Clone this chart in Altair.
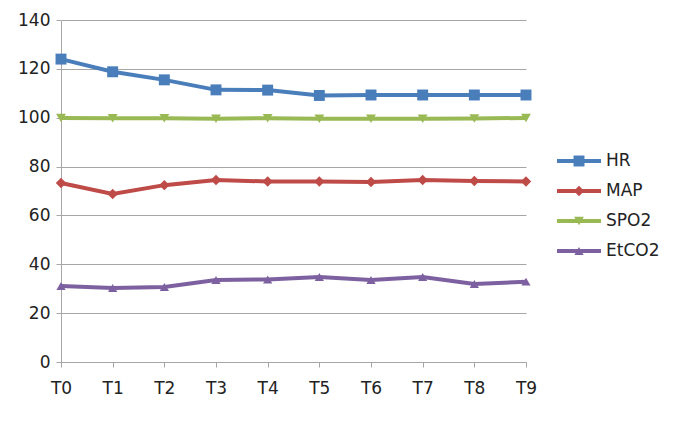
import altair as alt
import pandas as pd

times = ["T0", "T1", "T2", "T3", "T4", "T5", "T6", "T7", "T8", "T9"]
series_names = ["HR", "MAP", "SPO2", "EtCO2"]
hr = [124.0, 118.8, 115.5, 111.4, 111.3, 109.1, 109.3, 109.3, 109.3, 109.3]
map_ = [73.3, 68.8, 72.4, 74.5, 73.9, 73.9, 73.7, 74.5, 74.1, 73.9]
spo2 = [99.9, 99.8, 99.8, 99.6, 99.8, 99.6, 99.6, 99.6, 99.7, 99.9]
etco2 = [31.1, 30.3, 30.7, 33.6, 33.8, 34.8, 33.6, 34.8, 31.9, 32.9]
colors = ["#4a7ebb", "#be4b48", "#98b954", "#7d60a0"]
shapes = ["square", "diamond", "triangle-down", "triangle-up"]
sizes = [120, 85, 125, 125]

rows = []
for name, vals in zip(series_names, [hr, map_, spo2, etco2]):
    for t, v in zip(times, vals):
        rows.append({"series": name, "time": t, "value": v})
df = pd.DataFrame(rows)
leg = pd.DataFrame({"series": series_names})

FONT = "DejaVu Sans"
color = alt.Color("series:N", scale=alt.Scale(domain=series_names, range=colors), legend=None)
shape = alt.Shape("series:N", scale=alt.Scale(domain=series_names, range=shapes), legend=None)
size = alt.Size("series:N", scale=alt.Scale(domain=series_names, range=sizes), legend=None)

x = alt.X("time:O", sort=times, scale=alt.Scale(type="point", padding=0),
          axis=alt.Axis(title=None, labelAngle=0, grid=False, domainColor="#a6a6a6",
                        tickColor="#a6a6a6", tickSize=5, labelPadding=13,
                        labelFontSize=17, labelFont=FONT, labelColor="#222"))
y = alt.Y("value:Q", scale=alt.Scale(domain=[0, 140], nice=False),
          axis=alt.Axis(title=None, values=list(range(0, 141, 20)), grid=True,
                        gridColor="#a6a6a6", domainColor="#a6a6a6", tickColor="#a6a6a6",
                        tickSize=5, labelPadding=6, labelFontSize=17, labelFont=FONT,
                        labelColor="#222"))

lines = alt.Chart(df).mark_line(strokeWidth=4).encode(x=x, y=y, color=color, detail="series:N")
points = alt.Chart(df).mark_point(filled=True, opacity=1).encode(
    x=x, y=y, color=color, shape=shape, size=size)
main = alt.layer(lines, points)

ly = alt.Y("series:N", sort=series_names,
           scale=alt.Scale(type="point", padding=0, range=[141, 231]), axis=None)
leg_rule = alt.Chart(leg).mark_rule(strokeWidth=4).encode(
    x=alt.value(496), x2=alt.value(540), y=ly, color=color)
leg_pt = alt.Chart(leg).mark_point(filled=True, opacity=1).encode(
    x=alt.value(518), y=ly, color=color, shape=shape, size=size)
leg_txt = alt.Chart(leg).mark_text(align="left", baseline="middle", fontSize=17,
                                   font=FONT, color="#222").encode(
    x=alt.value(545), y=ly, text="series:N")
legend = alt.layer(leg_rule, leg_pt, leg_txt)

chart = alt.layer(main, legend).resolve_scale(
    y="independent"
).properties(
    width=465, height=342,
    autosize=alt.AutoSizeParams(type="none"),
    padding={"left": 53, "top": 12, "right": 144, "bottom": 55},
).configure_view(stroke=None)

chart.save("out.html", embed_options={"renderer": "svg", "actions": False})
